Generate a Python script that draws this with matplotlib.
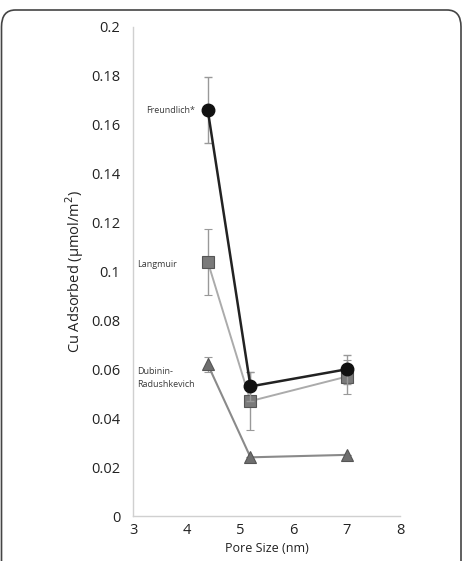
import matplotlib
matplotlib.use("Agg")
import matplotlib.pyplot as plt
from matplotlib.patches import FancyBboxPatch

plt.rcParams['font.family'] = ['Open Sans', 'DejaVu Sans']

pore_size = [4.4, 5.2, 7.0]
freundlich = [0.166, 0.053, 0.060]
freundlich_err = [0.0135, 0.006, 0.006]
langmuir = [0.104, 0.047, 0.057]
langmuir_err = [0.0135, 0.012, 0.007]
dubinin = [0.062, 0.024, 0.025]
dubinin_err = [0.003, 0.0, 0.0]

x_ticks = [3, 4, 5, 6, 7, 8]
y_ticks = [0, 0.02, 0.04, 0.06, 0.08, 0.1, 0.12, 0.14, 0.16, 0.18, 0.2]
y_tick_labels = ['0', '0.02', '0.04', '0.06', '0.08', '0.1', '0.12', '0.14', '0.16', '0.18', '0.2']

W, H = 463, 561
fig = plt.figure(figsize=(W / 100, H / 100), dpi=100)
fig.patch.set_facecolor('white')

# rounded frame
frame = FancyBboxPatch((1.5 / W, -0.2), (W - 3.5) / W, 1 - 10 / H + 0.2,
                       boxstyle="round,pad=0,rounding_size=0.03",
                       transform=fig.transFigure, facecolor='none',
                       edgecolor='#444444', linewidth=1.2)
fig.patches.append(frame)

ax = fig.add_axes([133 / W, 1 - 516 / H, (400 - 133) / W, (516 - 27) / H])

err_kw = dict(ecolor='#999999', elinewidth=1.0, capsize=3, capthick=1.0)

ax.errorbar(pore_size, dubinin, yerr=dubinin_err, color='#8a8a8a', lw=1.5,
            marker='^', ms=8.5, mfc='#6e6e6e', mec='#555555', mew=0.8, zorder=3, **err_kw)
ax.errorbar(pore_size, langmuir, yerr=langmuir_err, color='#ababab', lw=1.4,
            marker='s', ms=8.5, mfc='#7a7a7a', mec='#555555', mew=0.8, zorder=4, **err_kw)
ax.errorbar(pore_size, freundlich, yerr=freundlich_err, color='#222222', lw=1.8,
            marker='o', ms=9, mfc='#111111', mec='#111111', zorder=5, **err_kw)

ann_kw = dict(fontsize=6.5, color='#3a3a3a')
ax.text(4.17, freundlich[0], 'Freundlich*', ha='right', va='center', **ann_kw)
ax.text(3.83, langmuir[0] - 0.001, 'Langmuir', ha='right', va='center', **ann_kw)
ax.text(3.07, 0.0565, 'Dubinin-\nRadushkevich', ha='left', va='center',
        linespacing=1.5, **ann_kw)

ax.set_xlim(3, 8)
ax.set_ylim(0, 0.2)
ax.set_xticks(x_ticks)
ax.set_yticks(y_ticks)
ax.set_yticklabels(y_tick_labels)
ax.tick_params(length=0, labelsize=10.5, colors='#222222', pad=9)
ax.tick_params(axis='x', pad=5)
for s in ['top', 'right']:
    ax.spines[s].set_visible(False)
for s in ['left', 'bottom']:
    ax.spines[s].set_color('#d0d0d0')
    ax.spines[s].set_linewidth(1.0)

ax.set_xlabel('Pore Size (nm)', fontsize=9, color='#222222', labelpad=3)
ax.set_ylabel('Cu Adsorbed (µmol/m$^2$)', fontsize=10.5, color='#222222', labelpad=4)

fig.savefig('out.png', dpi=100)
